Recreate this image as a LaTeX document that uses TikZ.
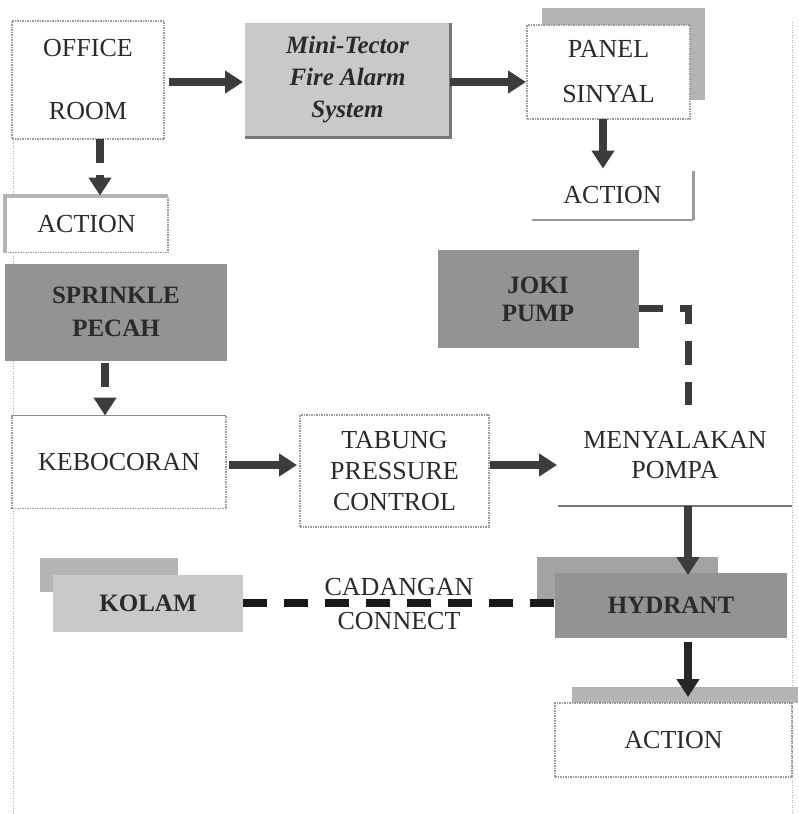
\documentclass[tikz,border=0pt]{standalone}
\usepackage{fontspec}
\setmainfont{Liberation Serif}
\usetikzlibrary{arrows.meta}
\definecolor{ink}{HTML}{2A2A2A}
\definecolor{arrowc}{HTML}{3C3C3C}
\definecolor{edgec}{HTML}{9A9A9A}
\definecolor{lightfill}{HTML}{C9C9C9}
\definecolor{darkfill}{HTML}{939393}
\definecolor{shadowfill}{HTML}{B4B4B4}
\begin{document}
\begin{tikzpicture}[x=1pt,y=-1pt,
  every node/.style={inner sep=0pt,outer sep=0pt,text=ink},
  txt/.style={font=\fontsize{26}{#1}\selectfont,align=center},
  plainbox/.style={draw=edgec,line width=1.1pt,dash pattern=on 1.5pt off 1pt,fill=white},
  lightbox/.style={fill=lightfill},
  darkbox/.style={fill=darkfill},
  shadowbox/.style={fill=shadowfill},
  arr/.style={draw=arrowc,line width=8pt,-{Triangle[length=18pt,width=22pt]}},
  darr/.style={draw=arrowc,line width=8pt,dash pattern=on 24pt off 12pt,-{Triangle[length=18pt,width=22pt]}},
  dline/.style={draw=arrowc,line width=7pt,dash pattern=on 24pt off 17pt},
  frameline/.style={draw=edgec!80,line width=1pt,dash pattern=on 1.2pt off 1.3pt}
]
\useasboundingbox (0,0) rectangle (798,814);
% frame
\draw[frameline] (13,23) -- (13,814);
\draw[frameline] (792,22) -- (792,814);

% shadows
\node[shadowbox,minimum width=163pt,minimum height=92pt] (panelsh) at (623.5,54) {};
\node[shadowbox,fill=darkfill!85!white,minimum width=181pt,minimum height=43pt] (hydsh) at (627.5,578.5) {};
\node[shadowbox,minimum width=138pt,minimum height=34pt] (kolsh) at (109,575) {};
\node[shadowbox,minimum width=226pt,minimum height=16pt] (actbsh) at (685,695) {};

% boxes
\node[plainbox,minimum width=152pt,minimum height=118pt,txt=63] (office) at (88,80) {OFFICE\\ROOM};
\node[lightbox,minimum width=205pt,minimum height=114pt,font=\fontsize{25}{32}\selectfont\bfseries\itshape,align=center] (mini) at (347.5,80) {Mini-Tector\\Fire Alarm\\System};
\draw[draw=arrowc!70,line width=3pt] (mini.north east) -- (mini.south east) -- (mini.south west);
\node[plainbox,minimum width=163pt,minimum height=94pt,txt=45] (panel) at (608.5,72) {PANEL\\SINYAL};
\node[minimum width=161pt,minimum height=49pt,txt=30] (acta) at (612.5,195) {ACTION};
\draw[draw=edgec,line width=3pt] (acta.north east) -- (acta.south east);
\draw[draw=edgec,line width=2pt] (acta.south east) -- (acta.south west);
\node[plainbox,minimum width=163pt,minimum height=57pt,txt=30] (actl) at (86.5,224) {ACTION};
\draw[draw=shadowfill,line width=4pt] (actl.south west) -- (actl.north west) -- (actl.north east);
\node[darkbox,minimum width=222pt,minimum height=97pt,font=\fontsize{25}{33}\selectfont\bfseries,align=center] (sprinkle) at (116,312) {SPRINKLE\\PECAH};
\node[plainbox,minimum width=214pt,minimum height=93pt,txt=30] (keb) at (119,462) {KEBOCORAN};
\draw[draw=arrowc!60,line width=1.5pt] (keb.north west) -- (keb.north east);
\node[plainbox,minimum width=189pt,minimum height=112pt,txt=31] (tabung) at (394.5,471) {TABUNG\\PRESSURE\\CONTROL};
\node[minimum width=234pt,minimum height=101pt,txt=30] (meny) at (675,455.5) {MENYALAKAN\\POMPA};
\draw[draw=arrowc!70,line width=1.5pt] (meny.south west) -- (meny.south east);
\node[darkbox,minimum width=201pt,minimum height=98pt,font=\fontsize{25}{28}\selectfont\bfseries,align=center] (joki) at (538,299) {JOKI\\PUMP};
\node[darkbox,minimum width=232pt,minimum height=65pt,font=\fontsize{25}{30}\selectfont\bfseries] (hydrant) at (671,605.5) {HYDRANT};
\node[plainbox,minimum width=237pt,minimum height=74pt,txt=30] (actb) at (673.5,740) {ACTION};
\node[lightbox,minimum width=190pt,minimum height=57pt,font=\fontsize{25}{30}\selectfont\bfseries] (kolam) at (148,603.5) {KOLAM};

% helper coordinates
\coordinate (y82) at (0,82);
\coordinate (y465) at (0,465);
\coordinate (y308) at (0,308);
\coordinate (x100) at (100,0);
\coordinate (x105) at (105,0);
\coordinate (x603) at (603,0);
\coordinate (x688) at (688,0);
\coordinate (y603) at (0,603);
\coordinate (jcorner) at (688,308);

% connectors
\draw[arr,shorten <=5pt,shorten >=2pt] (office.east |- y82) -- (mini.west |- y82);
\draw[arr,shorten >=1pt] (mini.east |- y82) -- (panel.west |- y82);
\draw[arr,shorten >=2pt] (panel.south -| x603) -- (acta.north -| x603);
\draw[darr] (office.south -| x100) -- (actl.north -| x100);
\draw[darr,shorten <=2pt] (sprinkle.south -| x105) -- (keb.north -| x105);
\draw[arr,shorten <=3pt,shorten >=3pt] (keb.east |- y465) -- (tabung.west |- y465);
\draw[arr,shorten <=1pt,shorten >=1pt] (tabung.east |- y465) -- (meny.west |- y465);
\draw[dline] (joki.east |- y308) -- (jcorner) -- (meny.north -| x688);
\draw[arr,shorten >=-2pt] (meny.south -| x688) -- (hydrant.north -| x688);
\draw[arr,draw=black!85,shorten <=4pt,shorten >=6pt] (hydrant.south -| x688) -- (actb.north -| x688);
\draw[dline,draw=black!90,line width=8pt] (kolam.east |- y603) -- node[txt=34,text=ink,yshift=-1pt] (cadangan) {CADANGAN\\CONNECT} (hydrant.west |- y603);
\end{tikzpicture}
\end{document}
